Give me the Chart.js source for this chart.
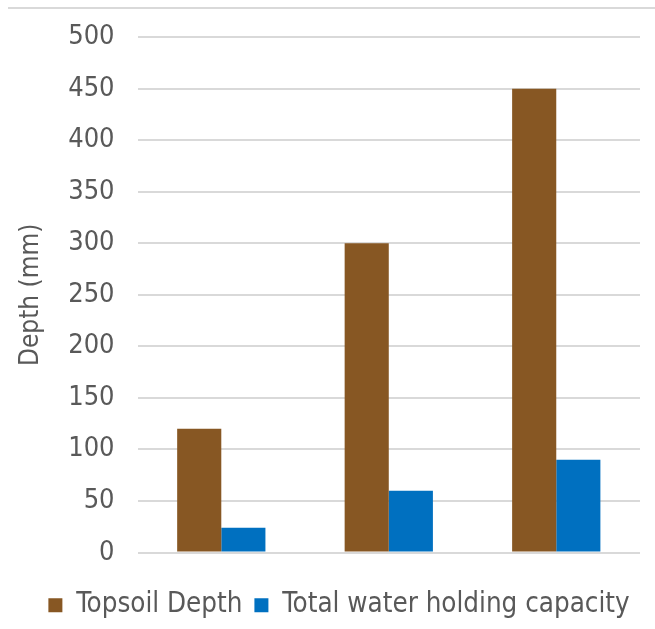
<!DOCTYPE html>
<html>
<head>
<meta charset="utf-8">
<script src="https://cdn.jsdelivr.net/npm/chart.js@4/dist/chart.umd.min.js"></script>
<style>
  html, body { margin: 0; padding: 0; background: #fff; overflow: hidden; }
  .wrap { position: relative; width: 655px; height: 629px; overflow: hidden; }
  .topline { position: absolute; left: 8px; top: 7px; right: 0; height: 2px; background: #d9d9d9; }
  .box { position: absolute; left: 0; top: -2px; width: 655px; height: 631px; }
</style>
</head>
<body>
<div class="wrap">
  <div class="topline"></div>
  <div class="box"><canvas id="myChart"></canvas></div>
</div>
<script>
var categories = ["", "", ""];
var topsoilDepth = [120, 300, 450];
var waterCapacity = [24, 60, 90];
var seriesNames = ["Topsoil Depth", "Total water holding capacity"];
var yTitle = "Depth (mm)";

var fontName = "'DejaVu Sans Condensed', 'DejaVu Sans', sans-serif";
var textColor = "#595959";

// legend in the original sits a bit right of centre
var legendShift = {
  id: "legendShift",
  afterLayout: function (chart) {
    chart.legend.left += 11;
    chart.legend.right += 11;
  },
};

var ctx = document.getElementById("myChart").getContext("2d");

var chart = new Chart(ctx, {
  type: "bar",
  data: {
    labels: categories,
    datasets: [
      {
        label: seriesNames[0],
        backgroundColor: "#875723",
        data: topsoilDepth,
        categoryPercentage: 0.527,
        barPercentage: 1.0,
      },
      {
        label: seriesNames[1],
        backgroundColor: "#0070c0",
        data: waterCapacity,
        categoryPercentage: 0.527,
        barPercentage: 1.0,
      },
    ],
  },
  plugins: [legendShift],
  options: {
    responsive: true,
    maintainAspectRatio: false,
    animation: { duration: 0 },
    layout: { padding: { top: 19, right: 15, left: 16, bottom: 0 } },
    plugins: {
      tooltip: { enabled: false },
      legend: {
        position: "bottom",
        labels: {
          color: textColor,
          font: { family: fontName, size: 27.5 },
          boxWidth: 14,
          boxHeight: 14,
          padding: 12,
        },
      },
    },
    scales: {
      x: {
        grid: { display: false },
        border: { display: false },
        ticks: { display: false },
        afterFit: function (scale) {
          // gap between the plot and the legend
          scale.height = 27;
        },
      },
      y: {
        min: 0,
        max: 500,
        ticks: {
          stepSize: 50,
          color: textColor,
          font: { family: fontName, size: 27 },
          padding: 23,
        },
        grid: { color: "#d9d9d9", lineWidth: 2, drawTicks: false },
        border: { display: false },
        title: {
          display: true,
          text: yTitle,
          color: textColor,
          font: { family: fontName, size: 26 },
          padding: { top: 0, bottom: -2 },
        },
      },
    },
  },
});
</script>
</body>
</html>
